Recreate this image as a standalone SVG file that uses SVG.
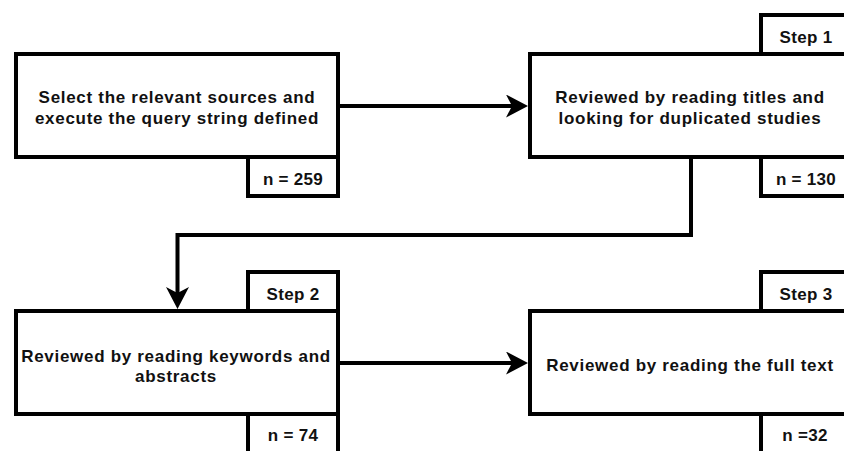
<svg xmlns="http://www.w3.org/2000/svg" width="844" height="451" viewBox="0 0 844 451">
<style>
.box{fill:#fff;stroke:#000;stroke-width:4}
.t{font-family:"Liberation Sans",Arial,sans-serif;font-weight:bold;font-size:17px;letter-spacing:0.7px;fill:#111;text-anchor:middle}
.s{letter-spacing:0.3px}
.c{fill:none;stroke:#000;stroke-width:4}
</style>
<defs>
<marker id="ah" markerUnits="userSpaceOnUse" viewBox="0 0 22 23" markerWidth="22" markerHeight="23" refX="6" refY="11.5" orient="auto">
<path d="M0,0 L22,11.5 L0,23 L6,11.5 Z" fill="#000"/>
</marker>
</defs>
<rect width="844" height="451" fill="#fff"/>
<g id="connectors">
<path class="c" d="M338,106 L512,106" marker-end="url(#ah)"/>
<path class="c" d="M691,157 L691,235 L177.5,235 L177.5,293" marker-end="url(#ah)"/>
<path class="c" d="M338,363 L512,363" marker-end="url(#ah)"/>
</g>
<g id="node1">
<rect class="box" x="16" y="54" width="322" height="103"/>
<text class="t" x="177" y="103">Select the relevant sources and</text>
<text class="t" x="177" y="124">execute the query string defined</text>
<rect class="box" x="248" y="157" width="90" height="39"/>
<text class="t s" x="293" y="185">n = 259</text>
</g>
<g id="node2">
<rect class="box" x="761" y="15" width="90" height="39"/>
<text class="t s" x="806" y="43">Step 1</text>
<rect class="box" x="530" y="54" width="322" height="103"/>
<text class="t" x="690" y="103">Reviewed by reading titles and</text>
<text class="t" x="690" y="124">looking for duplicated studies</text>
<rect class="box" x="761" y="157" width="90" height="39"/>
<text class="t s" x="806" y="185">n = 130</text>
</g>
<g id="node3">
<rect class="box" x="248" y="272" width="90" height="39"/>
<text class="t s" x="293" y="300">Step 2</text>
<rect class="box" x="16" y="311" width="322" height="103"/>
<text class="t" x="176" y="362">Reviewed by reading keywords and</text>
<text class="t" x="176" y="382">abstracts</text>
<rect class="box" x="248" y="414" width="90" height="39"/>
<text class="t s" x="293" y="441">n = 74</text>
</g>
<g id="node4">
<rect class="box" x="761" y="272" width="90" height="39"/>
<text class="t s" x="806" y="300">Step 3</text>
<rect class="box" x="530" y="311" width="322" height="103"/>
<text class="t" x="690" y="371">Reviewed by reading the full text</text>
<rect class="box" x="761" y="414" width="90" height="39"/>
<text class="t s" x="805" y="441">n =32</text>
</g>
</svg>
